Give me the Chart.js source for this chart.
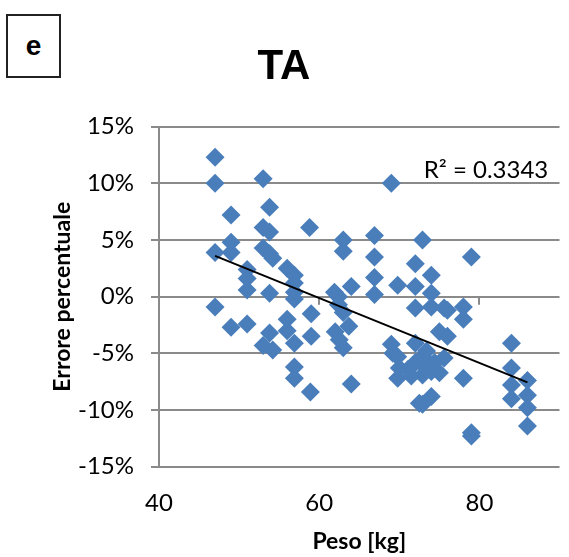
<!DOCTYPE html>
<html>
<head>
<meta charset="utf-8">
<script src="https://cdn.jsdelivr.net/npm/chart.js@4/dist/chart.umd.min.js"></script>
<style>
  html, body { margin: 0; padding: 0; background: #fff; }
  #wrap { position: relative; width: 569px; height: 557px; }
  #panel {
    position: absolute; left: 6px; top: 14px; width: 51px; height: 60px;
    border: 2px solid #222; background: #fff;
    font: bold 28px "Liberation Sans", Arial, sans-serif; color: #000;
    display: flex; align-items: center; justify-content: center;
    box-sizing: content-box;
  }
  canvas { position: absolute; left: 0; top: 0; }
</style>
</head>
<body>
<div id="wrap">
  <canvas id="chart" width="569" height="557"></canvas>
  <div id="panel">e</div>
</div>
<script>
// Body weight (kg) of each subject
const pesoKg = [
  47.0, 47.0, 47.0, 47.0,
  49.0, 49.0, 49.0, 49.0,
  51.0, 51.0, 51.0, 51.0,
  53.0, 53.0, 53.0, 53.0,
  53.8, 53.8, 53.8, 53.8, 53.8,
  54.2, 54.2,
  56.0, 56.0, 56.0,
  56.9, 56.9, 56.9, 56.9, 56.9, 56.9, 56.9,
  58.8, 59.0, 59.0, 58.9,
  61.9, 62.0, 62.4, 62.4, 62.5,
  63.0, 63.0, 63.0, 63.0, 63.7, 64.0, 64.0,
  66.9, 66.9, 66.9, 66.9,
  69.0, 69.0, 69.2, 69.8, 69.8, 69.8, 70.0,
  71.1, 71.5,
  72.0, 72.0, 72.0, 72.0, 72.0, 72.5, 72.5,
  72.9, 72.9, 72.9, 72.9, 73.4, 73.4,
  74.0, 74.0, 74.0, 74.0, 74.0, 74.4,
  75.0, 75.0, 75.6, 75.6, 76.0, 76.0,
  78.0, 78.0, 78.0,
  79.0, 79.0, 79.0,
  84.0, 84.0, 84.0, 84.0,
  86.0, 86.0, 86.0, 86.0
];

// Percentage error of the TA estimate for the same subjects
const erroreTA = [
  12.3, 10.0, 3.9, -0.9,
  7.2, 4.8, 3.9, -2.7,
  2.4, 1.6, 0.6, -2.4,
  10.4, 6.1, 4.3, -4.3,
  7.9, 5.7, 3.8, 0.3, -3.2,
  3.4, -4.7,
  2.5, -2.0, -3.0,
  1.9, 1.2, 0.4, -0.2, -4.1, -6.2, -7.2,
  6.1, -1.5, -3.5, -8.4,
  0.4, -3.1, 0.0, -0.7, -3.8,
  5.0, 4.0, -1.4, -4.5, -2.6, 0.9, -7.7,
  5.4, 3.5, 1.7, 0.2,
  10.0, -4.2, -5.0, 1.0, -5.3, -7.2, -6.3,
  -6.4, -7.0,
  2.9, 0.9, -1.0, -4.1, -5.8, -5.7, -9.4,
  5.0, -5.3, -6.9, -9.5, -6.2, -4.8,
  1.9, 0.3, -0.9, -6.6, -8.8, -5.8,
  -3.1, -6.7, -5.4, -1.0, -3.5, -1.2,
  -0.9, -2.0, -7.2,
  3.5, -12.0, -12.3,
  -4.1, -6.3, -7.8, -9.0,
  -7.4, -8.7, -9.8, -11.4
];

const xTicks = [40, 60, 80];
const yTicks = [-15, -10, -5, 0, 5, 10, 15];
const r2Text = 'R\u00B2 = 0.3343';

const points = pesoKg.map((x, i) => ({ x: x, y: erroreTA[i] }));

// Least-squares linear trend over the scatter
function linearFit(xs, ys) {
  const n = xs.length;
  let sx = 0, sy = 0, sxx = 0, sxy = 0;
  for (let i = 0; i < n; i++) {
    sx += xs[i]; sy += ys[i];
    sxx += xs[i] * xs[i]; sxy += xs[i] * ys[i];
  }
  const slope = (n * sxy - sx * sy) / (n * sxx - sx * sx);
  const intercept = (sy - slope * sx) / n;
  return { slope, intercept };
}
const fit = linearFit(pesoKg, erroreTA);
const xMin = Math.min(...pesoKg), xMax = Math.max(...pesoKg);
const trend = [
  { x: xMin, y: fit.intercept + fit.slope * xMin },
  { x: xMax, y: fit.intercept + fit.slope * xMax }
];

const GRID = '#8a8a8a';
const TICK_FONT = { family: 'Lato, "Open Sans", sans-serif', size: 24 };
const TITLE_FONT = { family: 'Lato, "Open Sans", sans-serif', size: 23, weight: 'bold' };

// Horizontal axis line crossing at 0 %, with its tick marks
const zeroAxis = {
  id: 'zeroAxis',
  beforeDatasetsDraw(chart) {
    const { ctx, scales: { x, y } } = chart;
    const y0 = y.getPixelForValue(0);
    ctx.save();
    ctx.strokeStyle = GRID;
    ctx.lineWidth = 2;
    xTicks.forEach(v => {
      const px = Math.round(x.getPixelForValue(v));
      ctx.beginPath();
      ctx.moveTo(px, y0);
      ctx.lineTo(px, y0 + 8);
      ctx.stroke();
    });
    ctx.restore();
  }
};

// Coefficient of determination label
const r2Label = {
  id: 'r2Label',
  afterDatasetsDraw(chart) {
    const { ctx, scales: { x, y } } = chart;
    ctx.save();
    ctx.font = '24px Lato, "Open Sans", sans-serif';
    ctx.fillStyle = '#000';
    ctx.textAlign = 'right';
    ctx.textBaseline = 'middle';
    ctx.fillText(r2Text, x.getPixelForValue(88.6), y.getPixelForValue(11.2));
    ctx.restore();
  }
};

new Chart(document.getElementById('chart'), {
  type: 'scatter',
  data: {
    datasets: [
      {
        type: 'line',
        data: trend,
        borderColor: '#000',
        borderWidth: 2,
        pointRadius: 0,
        fill: false,
        order: 0
      },
      {
        data: points,
        pointStyle: 'rectRot',
        pointRadius: 9.5,
        pointHoverRadius: 9.5,
        backgroundColor: '#4A7EBB',
        borderWidth: 0,
        order: 1
      }
    ]
  },
  options: {
    responsive: false,
    animation: false,
    devicePixelRatio: 1,
    layout: { padding: { top: 0, right: 1, bottom: 0, left: 0 } },
    plugins: {
      legend: { display: false },
      tooltip: { enabled: false },
      title: {
        display: true,
        text: 'TA',
        color: '#000',
        font: { family: '"Liberation Sans Narrow", "Liberation Sans", Arial, sans-serif', size: 42, weight: 'bold' },
        padding: { top: 42, bottom: 34.3 }
      }
    },
    scales: {
      x: {
        type: 'linear',
        min: 40,
        max: 90,
        afterBuildTicks: s => { s.ticks = xTicks.map(v => ({ value: v })); },
        afterFit: s => { s.height = 90.3; },
        grid: { display: false, drawTicks: false },
        border: { display: false },
        ticks: { color: '#000', font: TICK_FONT, padding: 22, maxRotation: 0 },
        title: { display: true, text: 'Peso [kg]', color: '#000', font: TITLE_FONT, padding: { top: 0, bottom: 2 } }
      },
      y: {
        min: -15,
        max: 15,
        afterBuildTicks: s => { s.ticks = yTicks.map(v => ({ value: v })); },
        afterFit: s => { s.width = 159; },
        grid: { color: GRID, lineWidth: 2, tickLength: 8, drawTicks: true },
        border: { display: true, color: GRID, width: 2 },
        ticks: { color: '#000', font: TICK_FONT, padding: 17, callback: v => v + '%' },
        title: { display: true, text: 'Errore percentuale', color: '#000', font: TITLE_FONT, padding: { top: 49, bottom: 0 } }
      }
    }
  },
  plugins: [zeroAxis, r2Label]
});
</script>
</body>
</html>
